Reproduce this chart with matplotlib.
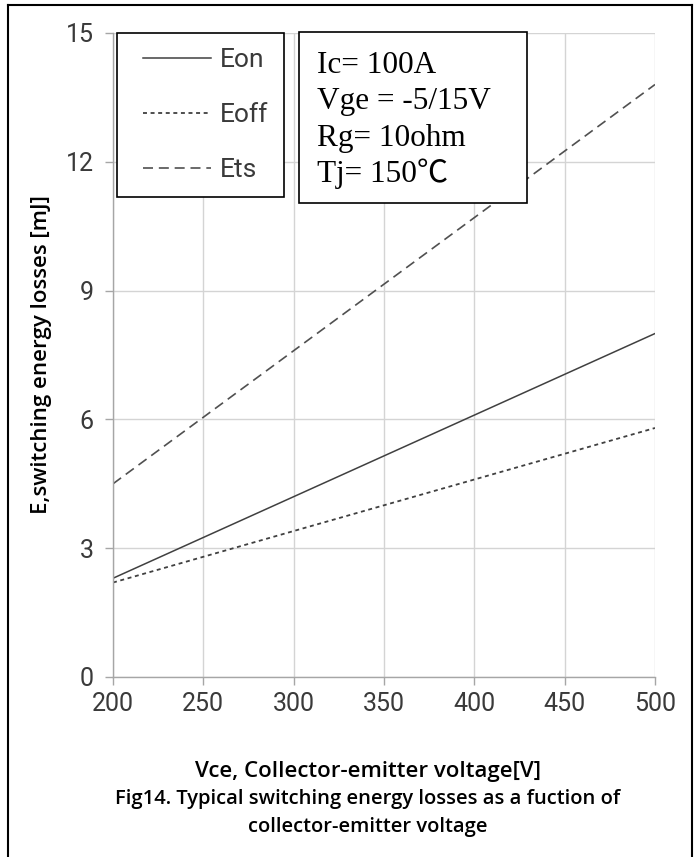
import matplotlib
matplotlib.use('Agg')
import matplotlib.pyplot as plt
from matplotlib.lines import Line2D
from matplotlib.patches import Rectangle
from matplotlib.legend_handler import HandlerLine2D

# --- data ---
vce = [200, 250, 300, 350, 400, 450, 500]
e_on = [2.3, 3.25, 4.2, 5.15, 6.1, 7.05, 8.0]
e_off = [2.2, 2.8, 3.4, 4.0, 4.6, 5.2, 5.8]
e_ts = [4.5, 6.05, 7.6, 9.15, 10.7, 12.25, 13.8]
x_ticks = [200, 250, 300, 350, 400, 450, 500]
y_ticks = [0, 3, 6, 9, 12, 15]
conditions = ["Ic= 100A", "Vge = -5/15V", "Rg= 10ohm", "Tj= 150\u2103"]

W, H = 697, 857
fig = plt.figure(figsize=(W / 100, H / 100), dpi=100)
ax = fig.add_axes([113 / W, 1 - 677 / H, (655 - 113) / W, (677 - 33) / H])

tick_font = ['Roboto', 'DejaVu Sans']
label_font = ['Open Sans', 'DejaVu Sans']
line_col = '#404040'

ax.plot(vce, e_on, color=line_col, lw=1.1, label='Eon')
ax.plot(vce, e_off, color=line_col, lw=1.3, dashes=(2.2, 2.0), label='Eoff')
ax.plot(vce, e_ts, color='#505050', lw=1.2, dashes=(6, 3.5), label='Ets')

ax.set_xlim(200, 500)
ax.set_ylim(0, 15)
ax.set_xticks(x_ticks)
ax.set_yticks(y_ticks)
ax.grid(True, color='#d4d4d4', lw=1.0)
ax.set_axisbelow(True)
for s in ['top', 'right']:
    ax.spines[s].set_visible(False)
for s in ['left', 'bottom']:
    ax.spines[s].set_color('#a6a6a6')
    ax.spines[s].set_linewidth(1.0)
ax.tick_params(axis='both', direction='out', length=6, width=1.0, color='#a6a6a6',
               labelcolor='#3a3a3a', labelsize=18)
ax.tick_params(axis='y', pad=8)
ax.tick_params(axis='x', pad=5)
for lab in ax.get_xticklabels() + ax.get_yticklabels():
    lab.set_family(tick_font)

ax.set_ylabel('E,switching energy losses [mJ]', family=label_font, fontsize=16,
              fontweight='semibold', labelpad=10)

# legend box at the top left
leg = ax.legend(loc='upper left', bbox_to_anchor=((117 - 113) / (655 - 113), 1.0),
                prop={'family': tick_font, 'size': 19},
                frameon=True, fancybox=False,
                handler_map={Line2D: HandlerLine2D(xpad=0.42)},
                handlelength=3.0, handletextpad=0.34, labelspacing=1.17,
                borderpad=0.57, borderaxespad=0.0, labelcolor='#3a3a3a')
leg.get_frame().set_edgecolor('black')
leg.get_frame().set_linewidth(1.2)
leg.get_frame().set_alpha(1)

# test conditions box
fig.patches.append(Rectangle((299 / W, 1 - 203 / H), (527 - 299) / W, (203 - 32) / H,
                             transform=fig.transFigure, facecolor='white',
                             edgecolor='black', lw=1.2, zorder=5))
for i, s in enumerate(conditions):
    fig.text(317 / W, 1 - (73 + 36.3 * i) / H, s, family=['Liberation Serif', 'Noto Sans CJK SC'],
             fontsize=22.5, va='baseline', ha='left', zorder=6)

# axis label and caption under the plot
cx = 368 / W
fig.text(cx, 1 - 771 / H, 'Vce, Collector-emitter voltage[V]', family=label_font,
         fontsize=16, fontweight='semibold', ha='center', va='center')
fig.text(cx, 1 - 799 / H, 'Fig14. Typical switching energy losses as a fuction of',
         family=label_font, fontsize=14.5, fontweight='semibold', ha='center', va='center')
fig.text(cx, 1 - 827 / H, 'collector-emitter voltage', family=label_font,
         fontsize=14.5, fontweight='semibold', ha='center', va='center')

# outer frame (open at the bottom)
for xs, ys in [([8, 8], [5, H]), ([692, 692], [5, H]), ([8, 692], [5, 5])]:
    fig.add_artist(Line2D([x / W for x in xs], [1 - y / H for y in ys],
                          transform=fig.transFigure, color='black', lw=1.5))

fig.savefig('out.png', dpi=100)
